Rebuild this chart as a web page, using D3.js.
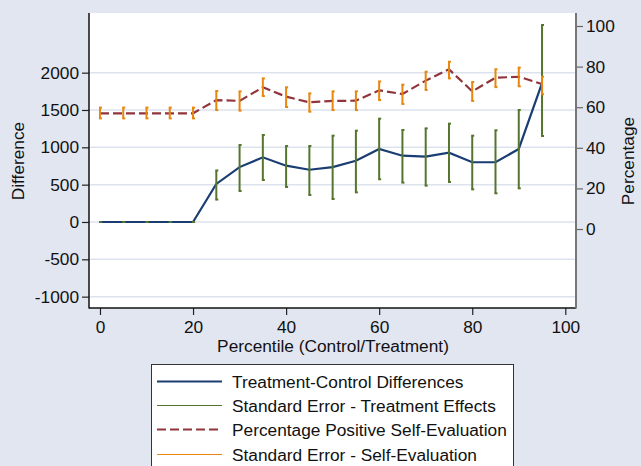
<!DOCTYPE html>
<html>
<head>
<meta charset="utf-8">
<script src="https://cdn.jsdelivr.net/npm/d3@7"></script>
<style>
  body { margin: 0; background: #e2e6f1; }
  svg { display: block; font-family: "Liberation Sans", Arial, sans-serif; }
</style>
</head>
<body>
<div id="chart"></div>
<script>
// data
var percentile = [0, 5, 10, 15, 20, 25, 30, 35, 40, 45, 50, 55, 60, 65, 70, 75, 80, 85, 90, 95];
var diff   = [0, 0, 0, 0, 0, 510, 735, 866, 754, 700, 735, 821, 978, 888, 875, 928, 800, 800, 978, 1860];
var diffHi = [0, 0, 0, 0, 0, 690, 1031, 1165, 1018, 1018, 1156, 1223, 1384, 1232, 1254, 1317, 1156, 1228, 1500, 2638];
var diffLo = [0, 0, 0, 0, 0, 300, 415, 562, 469, 362, 308, 397, 572, 527, 487, 536, 437, 384, 451, 1152];
var pct   = [57, 57, 57, 57, 57, 63.5, 63.1, 69.8, 65.2, 62.4, 63.1, 63.2, 68.3, 66.5, 73.1, 78.7, 67.8, 74.5, 75.0, 71.4];
var pctHi = [59.8, 59.8, 59.8, 59.8, 59.8, 68, 67.8, 74.2, 69.8, 66.8, 67.8, 67.8, 72.7, 71.1, 77.5, 82.4, 72.4, 78.7, 79.5, 75];
var pctLo = [54.5, 54.5, 54.5, 54.5, 54.5, 58.6, 58.3, 65.5, 60.1, 57.8, 58.6, 58.6, 63.5, 61.6, 68.5, 74.2, 63.1, 69.9, 70.3, 66.4];
var xTicks = [0, 20, 40, 60, 80, 100];
var leftTicks = [-1000, -500, 0, 500, 1000, 1500, 2000];
var rightTicks = [0, 20, 40, 60, 80, 100];
var legendLabels = ["Treatment-Control Differences", "Standard Error - Treatment Effects",
  "Percentage Positive Self-Evaluation", "Standard Error - Self-Evaluation"];

var svgWidth = 641, svgHeight = 466;
var plot = {left: 89, right: 576, top: 13, bottom: 308};
var fontSize = 17.3;

var svg = d3.select("#chart").append("svg")
  .attr("width", svgWidth)
  .attr("height", svgHeight);

svg.append("rect").attr("width", svgWidth).attr("height", svgHeight).attr("fill", "#e2e6f1");
svg.append("rect")
  .attr("x", plot.left).attr("y", plot.top)
  .attr("width", plot.right - plot.left).attr("height", plot.bottom - plot.top)
  .attr("fill", "white");

var x = d3.scaleLinear().domain([-2.36, 102.3]).range([plot.left, plot.right]);
var yL = d3.scaleLinear().domain([-1152, 2799]).range([plot.bottom, plot.top]);
var yR = d3.scaleLinear().domain([-38.9, 106.4]).range([plot.bottom, plot.top]);
var plain = d => String(d);

// grid
svg.append("g").selectAll("line")
  .data(leftTicks).enter().append("line")
  .attr("x1", plot.left).attr("x2", plot.right)
  .attr("y1", d => yL(d)).attr("y2", d => yL(d))
  .attr("stroke", "#dde3ee").attr("stroke-width", 1.5);

// axes
var leftAxis = svg.append("g")
  .attr("transform", `translate(${plot.left},0)`)
  .call(d3.axisLeft(yL).tickValues(leftTicks).tickFormat(plain).tickSize(7).tickPadding(3));
var rightAxis = svg.append("g")
  .attr("transform", `translate(${plot.right},0)`)
  .call(d3.axisRight(yR).tickValues(rightTicks).tickFormat(plain).tickSize(7).tickPadding(3));
var bottomAxis = svg.append("g")
  .attr("transform", `translate(0,${plot.bottom})`)
  .call(d3.axisBottom(x).tickValues(xTicks).tickFormat(plain).tickSize(7).tickPadding(6));

[leftAxis, rightAxis, bottomAxis].forEach(function(ax) {
  ax.selectAll("text").attr("font-size", fontSize + "px").attr("font-family", "Liberation Sans, Arial").attr("fill", "#111");
  ax.selectAll(".tick line").attr("stroke", "#222").attr("stroke-width", 1.2);
  ax.select(".domain").remove();
});
rightAxis.selectAll(".tick line").attr("stroke", "#666");

svg.append("line").attr("x1", plot.left).attr("x2", plot.left)
  .attr("y1", plot.top).attr("y2", plot.bottom + 0.5)
  .attr("stroke", "#111").attr("stroke-width", 1.5);
svg.append("line").attr("x1", plot.left).attr("x2", plot.right)
  .attr("y1", plot.bottom).attr("y2", plot.bottom)
  .attr("stroke", "#111").attr("stroke-width", 1.5);
svg.append("line").attr("x1", plot.right).attr("x2", plot.right)
  .attr("y1", plot.top).attr("y2", plot.bottom + 0.5)
  .attr("stroke", "#777").attr("stroke-width", 2);

// axis titles
svg.append("text").attr("transform", `translate(24,161)rotate(-90)`)
  .attr("text-anchor", "middle").attr("font-size", fontSize + "px").attr("fill", "#111")
  .text("Difference");
svg.append("text").attr("transform", `translate(634,161)rotate(-90)`)
  .attr("text-anchor", "middle").attr("font-size", fontSize + "px").attr("fill", "#111")
  .text("Percentage");
svg.append("text").attr("x", 333).attr("y", 352)
  .attr("text-anchor", "middle").attr("font-size", fontSize + "px").attr("fill", "#111")
  .text("Percentile (Control/Treatment)");

var blue = "#1a3d73", green = "#55752f", maroon = "#90353b", orange = "#e8860d";
var idx = d3.range(percentile.length);

// treatment-control line
svg.append("path")
  .attr("d", d3.line().x(i => x(percentile[i])).y(i => yL(diff[i]))(idx))
  .attr("fill", "none").attr("stroke", blue).attr("stroke-width", 2.2);

function capBars(lo, hi, scale, color) {
  var g = svg.append("g").attr("stroke", color).attr("stroke-width", 2);
  g.selectAll("line.bar").data(idx).enter().append("line")
    .attr("x1", i => x(percentile[i])).attr("x2", i => x(percentile[i]))
    .attr("y1", i => scale(lo[i])).attr("y2", i => scale(hi[i]));
  g.selectAll("line.capHi").data(idx).enter().append("line")
    .attr("x1", i => x(percentile[i]) - 1).attr("x2", i => x(percentile[i]) + 2)
    .attr("y1", i => scale(hi[i])).attr("y2", i => scale(hi[i]));
  g.selectAll("line.capLo").data(idx).enter().append("line")
    .attr("x1", i => x(percentile[i]) - 1).attr("x2", i => x(percentile[i]) + 2)
    .attr("y1", i => scale(lo[i])).attr("y2", i => scale(lo[i]));
}
capBars(diffLo, diffHi, yL, green);

svg.append("path")
  .attr("d", d3.line().x(i => x(percentile[i])).y(i => yR(pct[i]))(idx))
  .attr("fill", "none").attr("stroke", maroon).attr("stroke-width", 2.2)
  .attr("stroke-dasharray", "9,4");

capBars(pctLo, pctHi, yR, orange);

// legend
var legend = svg.append("g");
legend.append("rect").attr("x", 151.5).attr("y", 364.5).attr("width", 362).attr("height", 120)
  .attr("fill", "white").attr("stroke", "#333").attr("stroke-width", 1);
var legendStyle = [
  {color: blue, width: 2.2, dash: null},
  {color: green, width: 1.2, dash: null},
  {color: maroon, width: 2.2, dash: "9,4"},
  {color: orange, width: 1.2, dash: null}
];
legendLabels.forEach(function(label, i) {
  var yy = Math.round(381 + i * 24.2) + 0.5;
  legend.append("line").attr("x1", 157).attr("x2", 222).attr("y1", yy).attr("y2", yy)
    .attr("stroke", legendStyle[i].color).attr("stroke-width", legendStyle[i].width)
    .attr("stroke-dasharray", legendStyle[i].dash);
  legend.append("text").attr("x", 232).attr("y", yy + 6)
    .attr("font-size", fontSize + "px").attr("fill", "#111").text(label);
});
</script>
</body>
</html>
